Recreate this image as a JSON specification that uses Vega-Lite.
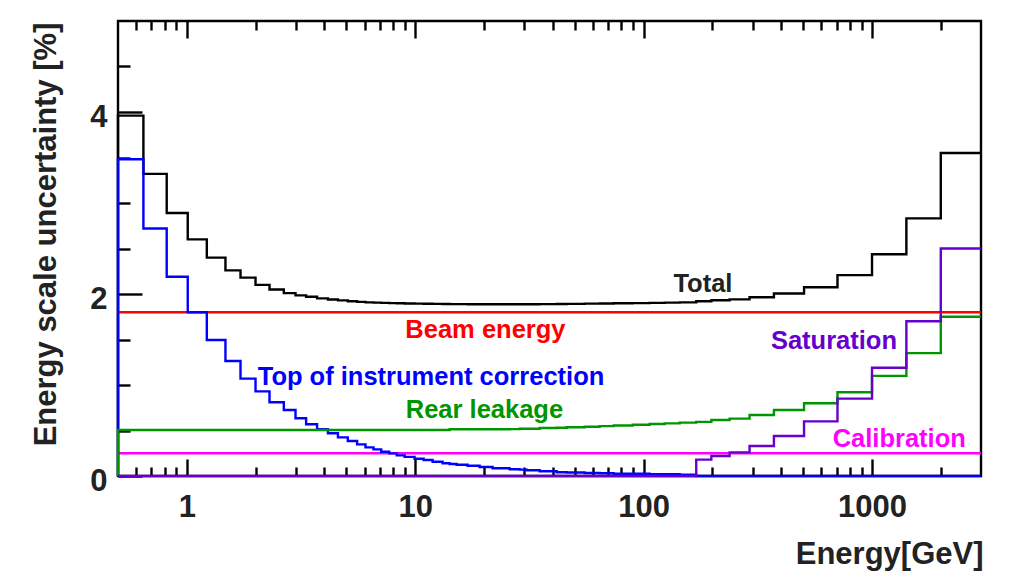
{
  "$schema": "https://vega.github.io/schema/vega-lite/v6.json",
  "width": 863,
  "height": 455,
  "autosize": {"type": "none"},
  "padding": {"left": 118, "top": 21, "right": 42, "bottom": 109},
  "background": "white",
  "config": {
    "view": {"stroke": "#000000", "strokeWidth": 2.4},
    "font": "Liberation Sans",
    "axis": {
      "grid": false,
      "domain": false,
      "tickColor": "#000000",
      "tickWidth": 2.4,
      "labelFont": "Liberation Sans",
      "labelFontWeight": "bold",
      "labelFontSize": 31,
      "labelColor": "#222222",
      "titleFont": "Liberation Sans",
      "titleFontWeight": "bold",
      "titleFontSize": 31,
      "titleColor": "#222222"
    }
  },
  "datasets": {
    "total": [
      {"e": 0.5, "v": 0}, {"e": 0.5, "v": 3.96}, {"e": 0.646, "v": 3.32}, {"e": 0.817, "v": 2.89},
      {"e": 1.01, "v": 2.6}, {"e": 1.224, "v": 2.4}, {"e": 1.477, "v": 2.26}, {"e": 1.719, "v": 2.18},
      {"e": 2.0, "v": 2.1}, {"e": 2.303, "v": 2.05}, {"e": 2.66, "v": 2.01}, {"e": 2.993, "v": 1.985},
      {"e": 3.33, "v": 1.97}, {"e": 3.72, "v": 1.952}, {"e": 4.15, "v": 1.94}, {"e": 4.59, "v": 1.93},
      {"e": 5.07, "v": 1.92}, {"e": 5.57, "v": 1.913}, {"e": 6.06, "v": 1.908}, {"e": 6.57, "v": 1.905},
      {"e": 7.1, "v": 1.902}, {"e": 7.7, "v": 1.9}, {"e": 8.3, "v": 1.898}, {"e": 8.99, "v": 1.896},
      {"e": 9.94, "v": 1.894}, {"e": 10.89, "v": 1.893}, {"e": 11.92, "v": 1.892}, {"e": 13.18, "v": 1.89},
      {"e": 14.15, "v": 1.889}, {"e": 15.18, "v": 1.889}, {"e": 16.96, "v": 1.888}, {"e": 19.15, "v": 1.888},
      {"e": 21.83, "v": 1.887}, {"e": 25.91, "v": 1.887}, {"e": 28.66, "v": 1.888}, {"e": 30.76, "v": 1.888},
      {"e": 35.07, "v": 1.889}, {"e": 41.64, "v": 1.89}, {"e": 46.05, "v": 1.892}, {"e": 55.2, "v": 1.894},
      {"e": 64.2, "v": 1.896}, {"e": 73.96, "v": 1.898}, {"e": 89.6, "v": 1.9}, {"e": 106.3, "v": 1.903},
      {"e": 123.7, "v": 1.905}, {"e": 143.9, "v": 1.908}, {"e": 170, "v": 1.921}, {"e": 198, "v": 1.931},
      {"e": 238, "v": 1.941}, {"e": 291, "v": 1.965}, {"e": 372, "v": 2.005}, {"e": 504, "v": 2.075},
      {"e": 706, "v": 2.207}, {"e": 1000, "v": 2.436}, {"e": 1414, "v": 2.831}, {"e": 2000, "v": 3.55},
      {"e": 3000, "v": 3.55}
    ],
    "toi": [
      {"e": 0.5, "v": 0}, {"e": 0.5, "v": 3.48}, {"e": 0.646, "v": 2.72}, {"e": 0.817, "v": 2.19},
      {"e": 1.01, "v": 1.8}, {"e": 1.224, "v": 1.495}, {"e": 1.477, "v": 1.264}, {"e": 1.719, "v": 1.07},
      {"e": 2.0, "v": 0.93}, {"e": 2.303, "v": 0.81}, {"e": 2.66, "v": 0.725}, {"e": 2.993, "v": 0.634},
      {"e": 3.33, "v": 0.568}, {"e": 3.72, "v": 0.513}, {"e": 4.15, "v": 0.469}, {"e": 4.59, "v": 0.425},
      {"e": 5.07, "v": 0.385}, {"e": 5.57, "v": 0.348}, {"e": 6.06, "v": 0.315}, {"e": 6.57, "v": 0.293},
      {"e": 7.1, "v": 0.267}, {"e": 7.7, "v": 0.249}, {"e": 8.3, "v": 0.227}, {"e": 8.99, "v": 0.21},
      {"e": 9.94, "v": 0.19}, {"e": 10.89, "v": 0.176}, {"e": 11.92, "v": 0.157}, {"e": 13.18, "v": 0.14},
      {"e": 14.15, "v": 0.132}, {"e": 15.18, "v": 0.124}, {"e": 16.96, "v": 0.113}, {"e": 19.15, "v": 0.099},
      {"e": 21.83, "v": 0.085}, {"e": 25.91, "v": 0.074}, {"e": 28.66, "v": 0.07}, {"e": 30.76, "v": 0.063},
      {"e": 35.07, "v": 0.052}, {"e": 41.64, "v": 0.041}, {"e": 46.05, "v": 0.038}, {"e": 55.2, "v": 0.033},
      {"e": 64.2, "v": 0.03}, {"e": 73.96, "v": 0.025}, {"e": 89.6, "v": 0.024}, {"e": 106.3, "v": 0.021},
      {"e": 123.7, "v": 0.019}, {"e": 143.9, "v": 0.015}, {"e": 170, "v": 0}, {"e": 198, "v": 0},
      {"e": 238, "v": 0}, {"e": 291, "v": 0}, {"e": 372, "v": 0}, {"e": 504, "v": 0},
      {"e": 706, "v": 0}, {"e": 1000, "v": 0}, {"e": 1414, "v": 0}, {"e": 2000, "v": 0},
      {"e": 3000, "v": 0}
    ],
    "rear": [
      {"e": 0.5, "v": 0}, {"e": 0.5, "v": 0.505}, {"e": 13.18, "v": 0.505}, {"e": 14.15, "v": 0.513},
      {"e": 25.91, "v": 0.515}, {"e": 28.66, "v": 0.52}, {"e": 30.76, "v": 0.52}, {"e": 35.07, "v": 0.527},
      {"e": 41.64, "v": 0.53}, {"e": 46.05, "v": 0.535}, {"e": 55.2, "v": 0.541}, {"e": 64.2, "v": 0.548},
      {"e": 73.96, "v": 0.555}, {"e": 89.6, "v": 0.564}, {"e": 106.3, "v": 0.571}, {"e": 123.7, "v": 0.578},
      {"e": 143.9, "v": 0.586}, {"e": 170, "v": 0.595}, {"e": 198, "v": 0.615}, {"e": 238, "v": 0.63},
      {"e": 291, "v": 0.67}, {"e": 372, "v": 0.725}, {"e": 504, "v": 0.8}, {"e": 706, "v": 0.92},
      {"e": 1000, "v": 1.1}, {"e": 1414, "v": 1.35}, {"e": 2000, "v": 1.75}, {"e": 3000, "v": 1.75}
    ],
    "sat": [
      {"e": 0.5, "v": 0}, {"e": 170, "v": 0.18}, {"e": 198, "v": 0.22}, {"e": 238, "v": 0.26},
      {"e": 291, "v": 0.33}, {"e": 372, "v": 0.44}, {"e": 504, "v": 0.6}, {"e": 706, "v": 0.85},
      {"e": 1000, "v": 1.19}, {"e": 1414, "v": 1.7}, {"e": 2000, "v": 2.5}, {"e": 3000, "v": 2.5}
    ],
    "beam": [{"e": 0.5, "v": 1.8}, {"e": 3000, "v": 1.8}],
    "calib": [{"e": 0.5, "v": 0.25}, {"e": 3000, "v": 0.25}],
    "labels": [
      {"e": 181.9, "v": 2.022, "t": "Total"},
      {"e": 20.3, "v": 1.516, "t": "Beam energy"},
      {"e": 681.5, "v": 1.392, "t": "Saturation"},
      {"e": 11.73, "v": 1.0, "t": "Top of instrument correction"},
      {"e": 20.1, "v": 0.634, "t": "Rear leakage"},
      {"e": 1316, "v": 0.322, "t": "Calibration"}
    ]
  },
  "resolve": {"axis": {"x": "independent", "y": "independent"}},
  "layer": [
    {
      "data": {"name": "beam"},
      "mark": {"type": "line", "color": "#ff0000", "strokeWidth": 2.4},
      "encoding": {
        "x": {
          "field": "e", "type": "quantitative",
          "scale": {"type": "log", "domain": [0.5, 3000], "nice": false},
          "axis": {
            "orient": "bottom", "values": [1, 10, 100, 1000],
            "labelExpr": "format(datum.value, 'd')",
            "ticks": false, "tickSize": 0, "labelPadding": 16, "labelFlush": false,
            "title": "Energy[GeV]", "titleX": 865, "titleY": 87,
            "titleAlign": "right", "titleBaseline": "alphabetic", "titleAngle": 0
          }
        },
        "y": {
          "field": "v", "type": "quantitative",
          "scale": {"domain": [0, 5], "nice": false},
          "axis": {
            "orient": "left", "values": [0, 2, 4],
            "ticks": false, "tickSize": 0, "labelPadding": 11, "labelOffset": 5,
            "title": "Energy scale uncertainty [%]", "titleX": -63, "titleY": 1,
            "titleAlign": "right", "titleBaseline": "alphabetic", "titleAngle": 270
          }
        }
      }
    },
    {
      "data": {"name": "calib"},
      "mark": {"type": "line", "color": "#ff00ff", "strokeWidth": 2.4},
      "encoding": {
        "x": {
          "field": "e", "type": "quantitative",
          "scale": {"type": "log", "domain": [0.5, 3000], "nice": false},
          "axis": {"orient": "bottom", "values": [1, 10, 100, 1000], "labels": false, "tickSize": -17, "title": null}
        },
        "y": {
          "field": "v", "type": "quantitative",
          "scale": {"domain": [0, 5], "nice": false},
          "axis": {"orient": "left", "values": [0, 2, 4], "labels": false, "tickSize": -24, "title": null}
        }
      }
    },
    {
      "data": {"name": "total"},
      "mark": {"type": "line", "interpolate": "step-after", "color": "#000000", "strokeWidth": 2.4},
      "encoding": {
        "x": {
          "field": "e", "type": "quantitative",
          "scale": {"type": "log", "domain": [0.5, 3000], "nice": false},
          "axis": {
            "orient": "bottom",
            "values": [0.6, 0.7, 0.8, 0.9, 2, 3, 4, 5, 6, 7, 8, 9, 20, 30, 40, 50, 60, 70, 80, 90, 200, 300, 400, 500, 600, 700, 800, 900, 2000],
            "labels": false, "tickSize": -9, "title": null
          }
        },
        "y": {
          "field": "v", "type": "quantitative",
          "scale": {"domain": [0, 5], "nice": false},
          "axis": {"orient": "left", "values": [0.5, 1, 1.5, 2.5, 3, 3.5, 4.5], "labels": false, "tickSize": -12, "title": null}
        },
        "order": {"value": null}
      }
    },
    {
      "data": {"name": "toi"},
      "mark": {"type": "line", "interpolate": "step-after", "color": "#0000ff", "strokeWidth": 2.4},
      "encoding": {
        "x": {
          "field": "e", "type": "quantitative",
          "scale": {"type": "log", "domain": [0.5, 3000], "nice": false},
          "axis": {"orient": "top", "values": [1, 10, 100, 1000], "labels": false, "tickSize": -17, "title": null}
        },
        "y": {"field": "v", "type": "quantitative", "scale": {"domain": [0, 5], "nice": false}, "axis": null},
        "order": {"value": null}
      }
    },
    {
      "data": {"name": "rear"},
      "mark": {"type": "line", "interpolate": "step-after", "color": "#009600", "strokeWidth": 2.4},
      "encoding": {
        "x": {
          "field": "e", "type": "quantitative",
          "scale": {"type": "log", "domain": [0.5, 3000], "nice": false},
          "axis": {
            "orient": "top",
            "values": [0.6, 0.7, 0.8, 0.9, 2, 3, 4, 5, 6, 7, 8, 9, 20, 30, 40, 50, 60, 70, 80, 90, 200, 300, 400, 500, 600, 700, 800, 900, 2000],
            "labels": false, "tickSize": -9, "title": null
          }
        },
        "y": {"field": "v", "type": "quantitative", "scale": {"domain": [0, 5], "nice": false}, "axis": null},
        "order": {"value": null}
      }
    },
    {
      "data": {"name": "sat"},
      "mark": {"type": "line", "interpolate": "step-after", "color": "#6600cc", "strokeWidth": 2.4},
      "encoding": {
        "x": {"field": "e", "type": "quantitative", "scale": {"type": "log", "domain": [0.5, 3000], "nice": false}, "axis": null},
        "y": {"field": "v", "type": "quantitative", "scale": {"domain": [0, 5], "nice": false}, "axis": null},
        "order": {"value": null}
      }
    },
    {
      "data": {"name": "labels"},
      "mark": {"type": "text", "font": "Liberation Sans", "fontWeight": "bold", "fontSize": 25.5, "align": "center", "baseline": "alphabetic"},
      "encoding": {
        "x": {"field": "e", "type": "quantitative", "scale": {"type": "log", "domain": [0.5, 3000], "nice": false}, "axis": null},
        "y": {"field": "v", "type": "quantitative", "scale": {"domain": [0, 5], "nice": false}, "axis": null},
        "text": {"field": "t"},
        "color": {
          "field": "t", "type": "nominal", "legend": null,
          "scale": {
            "domain": ["Total", "Beam energy", "Saturation", "Top of instrument correction", "Rear leakage", "Calibration"],
            "range": ["#222222", "#ff0000", "#6600cc", "#0000ff", "#009600", "#ff00ff"]
          }
        }
      }
    }
  ]
}
